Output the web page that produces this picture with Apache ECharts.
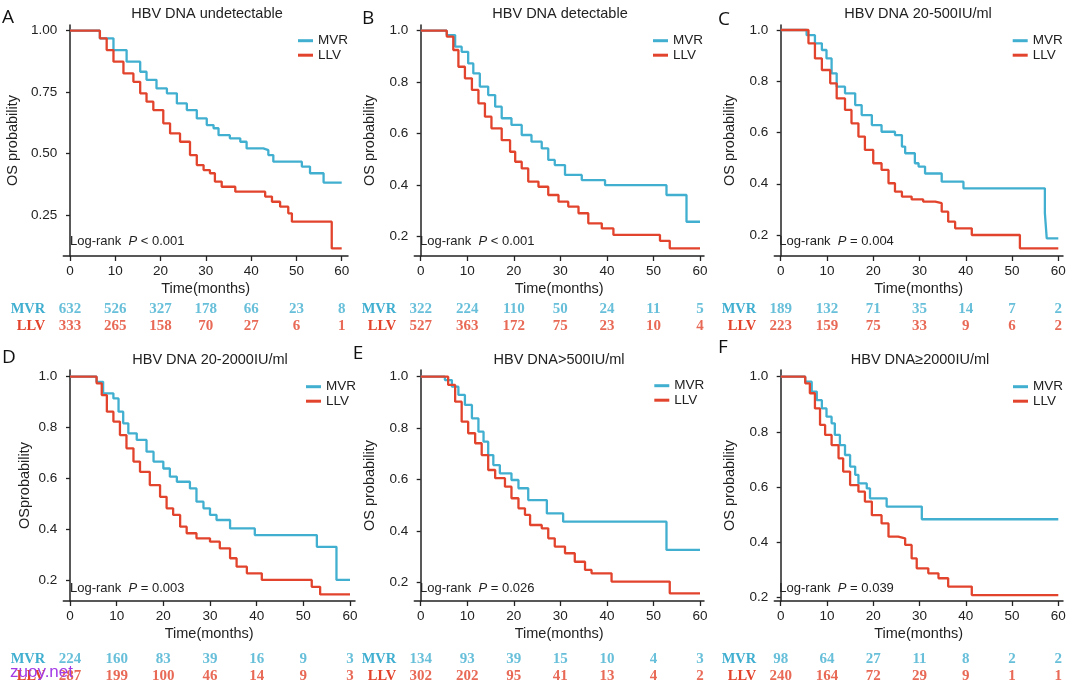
<!DOCTYPE html>
<html>
<head>
<meta charset="utf-8">
<title>OS by HBV DNA level</title>
<script src="https://cdn.jsdelivr.net/npm/echarts@6/dist/echarts.min.js"></script>
<style>
  html, body { margin: 0; padding: 0; background: #fff; }
  #chart { width: 1080px; height: 687px; }
</style>
</head>
<body>
<div id="chart"></div>
<script>
// ---- data ----
var months = [0, 10, 20, 30, 40, 50, 60];
var yTicksA = [0.25, 0.50, 0.75, 1.00];
var yTicks = [0.2, 0.4, 0.6, 0.8, 1.0];

var panelLetters = ['A', 'B', 'C', 'D', 'E', 'F'];
var panelTitles = ['HBV DNA undetectable', 'HBV DNA detectable', 'HBV DNA 20-500IU/ml',
    'HBV DNA 20-2000IU/ml', 'HBV DNA>500IU/ml', 'HBV DNA\u22652000IU/ml'];
var pTexts = ['< 0.001', '< 0.001', '= 0.004', '= 0.003', '= 0.026', '= 0.039'];
var yNames = ['OS probability', 'OS probability', 'OS probability', 'OSprobability', 'OS probability', 'OS probability'];

// KM curves, [month, survival]
var mvrA = [[0,1],[4.4,1],[6.6,0.969],[9.6,0.921],[12.5,0.874],[15.5,0.833],[16.9,0.80],[19.1,0.765],[21.4,0.745],
    [23.6,0.704],[25.8,0.677],[28.0,0.643],[30.2,0.616],[31.7,0.603],[32.8,0.575],[35.3,0.562],[37.6,0.548],[39.0,0.521],
    [42.7,0.514],[43.8,0.494],[44.9,0.467],[51.2,0.447],[53.0,0.42],[56.0,0.382],[60,0.382]];
var llvA = [[0,1],[4.4,1],[6.6,0.969],[8.1,0.921],[9.6,0.874],[11.8,0.826],[14.0,0.792],[15.5,0.745],[16.9,0.711],
    [18.4,0.677],[20.6,0.623],[22.1,0.582],[24.3,0.548],[26.5,0.494],[28.0,0.453],[29.5,0.433],[30.9,0.42],[32.0,0.386],
    [33.5,0.365],[36.5,0.345],[43.1,0.325],[44.6,0.304],[46.4,0.284],[48.2,0.257],[49.0,0.223],[57.8,0.114],[60,0.114]];

var mvrB = [[0,1],[3.8,1],[5.6,0.983],[7.4,0.938],[8.8,0.918],[10.2,0.873],[11.3,0.834],[12.7,0.783],[14.5,0.75],
    [16.0,0.705],[17.4,0.66],[19.5,0.634],[21.7,0.595],[23.8,0.569],[26.0,0.543],[27.4,0.498],[28.8,0.478],[31.0,0.44],
    [34.6,0.42],[39.6,0.40],[52.8,0.362],[57.1,0.258],[60,0.258]];
var llvB = [[0,1],[3.8,1],[5.6,0.977],[7.0,0.925],[8.1,0.86],[9.5,0.815],[11.0,0.77],[12.4,0.718],[13.8,0.666],
    [15.2,0.621],[17.4,0.575],[19.2,0.53],[20.3,0.491],[21.7,0.465],[23.1,0.414],[25.3,0.394],[27.4,0.362],[29.6,0.336],
    [31.7,0.317],[33.9,0.291],[36.0,0.252],[38.9,0.232],[41.4,0.207],[51.4,0.184],[53.5,0.155],[60,0.155]];

var mvrC = [[0,1],[3.8,1],[5.6,0.98],[7.4,0.948],[8.9,0.922],[9.9,0.889],[11.0,0.831],[12.1,0.779],[13.9,0.753],
    [16.1,0.707],[17.5,0.668],[19.7,0.629],[21.8,0.603],[24.7,0.59],[26.2,0.545],[26.9,0.519],[29.0,0.48],[29.8,0.467],
    [31.2,0.44],[34.8,0.408],[39.5,0.382],[57.1,0.285],[57.5,0.187],[60,0.187]];
var llvC = [[0,1],[4.9,1],[6.0,0.948],[7.4,0.889],[8.9,0.844],[10.7,0.792],[12.1,0.733],[13.9,0.688],[15.3,0.636],
    [16.8,0.584],[18.2,0.532],[20.0,0.48],[21.8,0.454],[23.3,0.402],[24.7,0.369],[26.2,0.35],[28.3,0.339],[30.8,0.33],
    [33.4,0.324],[34.8,0.291],[36.2,0.252],[37.7,0.226],[41.3,0.20],[51.7,0.148],[60,0.148]];

var mvrD = [[0,1],[3.9,1],[5.7,0.98],[7.1,0.935],[9.3,0.915],[10.4,0.863],[11.4,0.817],[12.5,0.778],[14.3,0.752],
    [16.4,0.706],[17.9,0.667],[20.0,0.64],[21.4,0.608],[22.9,0.588],[25.7,0.562],[27.1,0.51],[28.6,0.484],[30.0,0.458],
    [31.4,0.438],[34.3,0.405],[39.6,0.379],[52.9,0.333],[57.1,0.203],[60,0.203]];
var llvD = [[0,1],[4.6,1],[5.7,0.974],[6.8,0.928],[7.9,0.863],[9.3,0.824],[10.7,0.771],[12.1,0.719],[13.6,0.667],
    [15.0,0.627],[17.1,0.575],[19.3,0.529],[20.7,0.484],[22.1,0.458],[23.6,0.412],[25.0,0.386],[27.1,0.366],[30.0,0.353],
    [32.1,0.327],[34.3,0.288],[35.7,0.255],[37.9,0.229],[41.1,0.203],[51.8,0.176],[53.6,0.146],[60,0.146]];

var mvrE = [[0,1],[3.4,1],[5.2,0.987],[6.7,0.961],[8.1,0.929],[9.5,0.89],[11.0,0.838],[12.4,0.786],[13.5,0.747],
    [14.5,0.695],[15.6,0.656],[17.0,0.624],[19.5,0.598],[21.0,0.566],[23.1,0.52],[27.1,0.468],[30.6,0.436],[52.8,0.326],
    [60,0.326]];
var llvE = [[0,1],[4.5,1],[5.9,0.968],[7.4,0.903],[8.8,0.825],[10.2,0.78],[11.7,0.741],[13.1,0.695],[14.5,0.637],
    [16.0,0.605],[18.1,0.572],[19.5,0.527],[21.0,0.488],[22.4,0.462],[23.5,0.423],[26.0,0.41],[27.4,0.371],[28.8,0.339],
    [31.0,0.313],[33.1,0.28],[35.3,0.248],[36.7,0.235],[41.0,0.203],[53.5,0.157],[60,0.157]];

var mvrF = [[0,1],[3.8,1],[5.3,0.982],[6.7,0.946],[7.8,0.915],[8.9,0.885],[9.9,0.855],[11.0,0.831],[11.7,0.789],
    [12.8,0.752],[13.9,0.716],[15.0,0.674],[16.1,0.644],[16.8,0.613],[18.6,0.595],[19.3,0.559],[22.9,0.529],[30.5,0.483],
    [60,0.483]];
var llvF = [[0,1],[3.8,1],[5.3,0.976],[6.3,0.94],[7.4,0.885],[8.5,0.825],[9.6,0.789],[11.0,0.752],[12.5,0.704],
    [13.5,0.656],[15.0,0.607],[16.8,0.583],[18.2,0.547],[19.7,0.498],[21.8,0.468],[23.3,0.42],[25.4,0.414],[26.9,0.39],
    [28.3,0.341],[29.4,0.305],[31.9,0.287],[34.1,0.269],[36.2,0.239],[41.3,0.208],[60,0.208]];

// numbers at risk at months 0..60
var riskMvrA = [632, 526, 327, 178, 66, 23, 8];
var riskLlvA = [333, 265, 158, 70, 27, 6, 1];
var riskMvrB = [322, 224, 110, 50, 24, 11, 5];
var riskLlvB = [527, 363, 172, 75, 23, 10, 4];
var riskMvrC = [189, 132, 71, 35, 14, 7, 2];
var riskLlvC = [223, 159, 75, 33, 9, 6, 2];
var riskMvrD = [224, 160, 83, 39, 16, 9, 3];
var riskLlvD = [287, 199, 100, 46, 14, 9, 3];
var riskMvrE = [134, 93, 39, 15, 10, 4, 3];
var riskLlvE = [302, 202, 95, 41, 13, 4, 2];
var riskMvrF = [98, 64, 27, 11, 8, 2, 2];
var riskLlvF = [240, 164, 72, 29, 9, 1, 1];

var mvrCurves = [mvrA, mvrB, mvrC, mvrD, mvrE, mvrF];
var llvCurves = [llvA, llvB, llvC, llvD, llvE, llvF];
var riskMvr = [riskMvrA, riskMvrB, riskMvrC, riskMvrD, riskMvrE, riskMvrF];
var riskLlv = [riskLlvA, riskLlvB, riskLlvC, riskLlvD, riskLlvE, riskLlvF];

// ---- layout (pixels) ----
var layout = [
    { axX: 63.3, rightX: 348, x0: 70, x60: 341.7, topY: 25, axY: 256, px1: 30.7, pxLow: 215, lowVal: 0.25,
      riskTop: 300, legL: 298, legT: 33.7, title: [207, 13.5], letter: [2, 17.5], lr: [70, 241.7], nameGap: 43 },
    { axX: 414.3, rightX: 704, x0: 420.7, x60: 700, topY: 25, axY: 256, px1: 30.7, pxLow: 236.7, lowVal: 0.2,
      riskTop: 300, legL: 653, legT: 33.7, title: [560, 13.5], letter: [362, 19], lr: [420, 241.7], nameGap: 37 },
    { axX: 774.3, rightX: 1063, x0: 780.7, x60: 1058.3, topY: 25, axY: 256, px1: 30, pxLow: 235, lowVal: 0.2,
      riskTop: 300, legL: 1012.7, legT: 33.7, title: [918, 13.5], letter: [718, 19.5], lr: [779.3, 241.7], nameGap: 37 },
    { axX: 63.3, rightX: 355, x0: 70, x60: 350, topY: 370, axY: 601, px1: 376.7, pxLow: 580.7, lowVal: 0.2,
      riskTop: 650, legL: 306, legT: 379.7, title: [210, 360], letter: [2, 358], lr: [70, 588.3], nameGap: 31 },
    { axX: 414.3, rightX: 704, x0: 420.7, x60: 700, topY: 370, axY: 601, px1: 376.7, pxLow: 582.3, lowVal: 0.2,
      riskTop: 650, legL: 654.3, legT: 378.7, title: [559, 360], letter: [352.7, 353.3], lr: [420, 588.3], nameGap: 37 },
    { axX: 774.3, rightX: 1063, x0: 780.7, x60: 1058.3, topY: 370, axY: 601, px1: 376.7, pxLow: 597.3, lowVal: 0.2,
      riskTop: 650, legL: 1013, legT: 379.7, title: [920, 360], letter: [718, 348], lr: [779.3, 588.3], nameGap: 37 }
];

var MVR_COLOR = '#41AFD0';
var LLV_COLOR = '#E2432C';
var INK = '#222';
var SANS = 'Liberation Sans';
var SERIF = 'Liberation Serif';

var grids = [], xAxes = [], yAxes = [], series = [], legends = [], graphics = [];

layout.forEach(function (L, i) {
    var pxPerMonth = (L.x60 - L.x0) / 60;
    var xMin = (L.axX - L.x0) / pxPerMonth;
    var xMax = (L.rightX - L.x0) / pxPerMonth;
    var pxPerUnit = (L.pxLow - L.px1) / (1 - L.lowVal);
    var yMax = 1 + (L.px1 - L.topY) / pxPerUnit;
    var yMin = 1 - (L.axY - L.px1) / pxPerUnit;
    var ticks = i === 0 ? yTicksA : yTicks;
    var decimals = i === 0 ? 2 : 1;

    // plot grid
    var g = grids.length;
    grids.push({ left: L.axX, top: L.topY, width: L.rightX - L.axX, height: L.axY - L.topY });
    xAxes.push({
        type: 'value', gridIndex: g, min: xMin, max: xMax,
        name: 'Time(months)', nameLocation: 'middle', nameGap: 25,
        nameTextStyle: { fontFamily: SANS, fontSize: 14.5, color: INK },
        axisLine: { show: true, lineStyle: { color: INK, width: 1.5 } },
        axisTick: { show: true, length: 5, customValues: months, lineStyle: { color: INK, width: 1.3 } },
        axisLabel: { customValues: months, margin: 8, fontFamily: SANS, fontSize: 13.5, color: INK },
        splitLine: { show: false }
    });
    yAxes.push({
        type: 'value', gridIndex: g, min: yMin, max: yMax,
        name: yNames[i], nameLocation: 'middle', nameRotate: 90, nameGap: L.nameGap,
        nameTextStyle: { fontFamily: SANS, fontSize: 14.5, color: INK },
        axisLine: { show: true, lineStyle: { color: INK, width: 1.5 } },
        axisTick: { show: true, length: 4, customValues: ticks, lineStyle: { color: INK, width: 1.3 } },
        axisLabel: {
            customValues: ticks, margin: 6, fontFamily: SANS, fontSize: 13.5, color: INK,
            formatter: function (v) { return Number(v).toFixed(decimals); }
        },
        splitLine: { show: false }
    });
    series.push({
        name: 'MVR', type: 'line', step: 'end', xAxisIndex: g, yAxisIndex: g,
        data: mvrCurves[i], showSymbol: false, silent: true,
        lineStyle: { color: MVR_COLOR, width: 2.3 }, itemStyle: { color: MVR_COLOR }
    });
    series.push({
        name: 'LLV', type: 'line', step: 'end', xAxisIndex: g, yAxisIndex: g,
        data: llvCurves[i], showSymbol: false, silent: true,
        lineStyle: { color: LLV_COLOR, width: 2.3 }, itemStyle: { color: LLV_COLOR }
    });

    // risk table grid, same time scale
    var r = grids.length;
    grids.push({ left: L.axX, top: L.riskTop, width: L.rightX - L.axX, height: 35 });
    xAxes.push({ type: 'value', gridIndex: r, min: xMin, max: xMax, show: false });
    yAxes.push({
        type: 'category', gridIndex: r, data: ['LLV', 'MVR'],
        axisLine: { show: false }, axisTick: { show: false },
        axisLabel: {
            interval: 0, hideOverlap: false,
            margin: 18, fontFamily: SERIF, fontWeight: 'bold', fontSize: 14.5,
            color: function (v) { return v === 'MVR' ? MVR_COLOR : LLV_COLOR; }
        }
    });
    var rowDefs = [['MVR', riskMvr[i], MVR_COLOR], ['LLV', riskLlv[i], LLV_COLOR]];
    rowDefs.forEach(function (row) {
        series.push({
            type: 'scatter', xAxisIndex: r, yAxisIndex: r, silent: true,
            symbolSize: 1, itemStyle: { color: 'transparent' },
            data: months.map(function (m, k) { return [m, row[0], row[1][k]]; }),
            label: {
                show: true, position: 'inside', color: row[2],
                fontFamily: SERIF, fontWeight: 'bold', fontSize: 15,
                formatter: function (p) { return p.value[2]; }
            }
        });
    });

    legends.push({
        data: ['MVR', 'LLV'], orient: 'vertical', left: L.legL, top: L.legT, padding: 0,
        icon: 'rect', itemWidth: 15, itemHeight: 3, itemGap: 0.5,
        textStyle: { fontFamily: SANS, fontSize: 13.5, color: INK, lineHeight: 14 }
    });

    graphics.push({
        type: 'text', x: L.letter[0], y: L.letter[1],
        style: { text: panelLetters[i], font: '19px "Open Sans"', fill: '#111', verticalAlign: 'middle', align: 'left' }
    });
    graphics.push({
        type: 'text', x: L.title[0], y: L.title[1],
        style: { text: panelTitles[i], font: '14.5px "Liberation Sans"', fill: INK, verticalAlign: 'middle', align: 'center' }
    });
    graphics.push({
        type: 'text', x: L.lr[0], y: L.lr[1],
        style: {
            text: '{n|Log-rank  }{i|P}{n| ' + pTexts[i] + '}',
            verticalAlign: 'middle', align: 'left',
            rich: {
                n: { fontFamily: SANS, fontSize: 13, fill: INK, color: INK },
                i: { fontFamily: SANS, fontSize: 13, fontStyle: 'italic', fill: INK, color: INK }
            }
        }
    });
});

// site watermark present on the source image
graphics.push({
    type: 'text', x: 10, y: 672, z: 100,
    style: { text: 'zuoy.net', font: '17px "Liberation Sans"', fill: '#A23BE6', verticalAlign: 'middle', align: 'left' }
});

var chart = echarts.init(document.getElementById('chart'));
chart.setOption({
    animation: false,
    backgroundColor: '#fff',
    grid: grids,
    xAxis: xAxes,
    yAxis: yAxes,
    legend: legends,
    series: series,
    graphic: graphics
});
</script>
</body>
</html>
